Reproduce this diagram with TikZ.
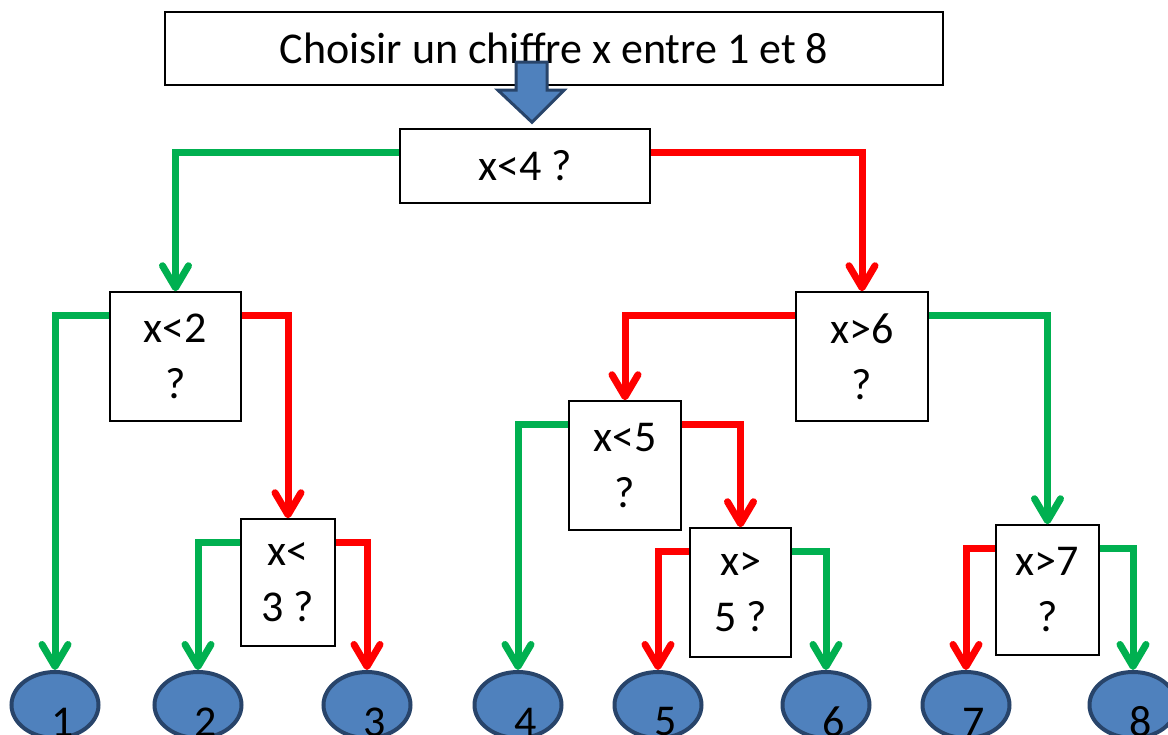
\documentclass[tikz,border=0pt]{standalone}
\usepackage{fontspec}
\setmainfont{Carlito}
\usetikzlibrary{arrows.meta,shapes.geometric}
\definecolor{oui}{RGB}{0,176,80}
\definecolor{non}{RGB}{255,0,0}
\definecolor{bleu}{RGB}{79,129,189}
\definecolor{bord}{RGB}{40,68,106}
\begin{document}
\begin{tikzpicture}[x=1pt,y=-1pt,
  every node/.style={font=\fontsize{44}{56}\selectfont},
  qbox/.style={draw, line width=1.5pt, inner sep=0pt, align=center},
  leaf/.style={ellipse, draw=bord, fill=bleu, line width=4pt, minimum width=87pt, minimum height=66pt, inner sep=0pt},
  chiffre/.style={inner sep=0pt, xshift=8pt, yshift=-17pt},
  lien/.style={line width=7pt, -{Straight Barb[length=22pt,width=26pt,round]}}]
\clip (0,0) rectangle (1168,735);
\node[qbox, minimum width=778pt, minimum height=73pt] (top) at (554,48.5){Choisir un chiffre x entre 1 et 8};
\node[qbox, minimum width=250pt, minimum height=74pt] (q0) at (525,166){x<4 ?};
\node[qbox, minimum width=131pt, minimum height=129pt] (q1) at (175.5,356.5){x<2\\?};
\node[qbox, minimum width=132pt, minimum height=129pt] (q2) at (862,356.5){x>6\\?};
\node[qbox, minimum width=94pt, minimum height=127pt] (q3) at (288,582.5){x<\\3 ?};
\node[qbox, minimum width=112pt, minimum height=129pt] (q4) at (625,465.5){x<5\\?};
\node[qbox, minimum width=101pt, minimum height=129pt] (q5) at (740.5,592.5){x>\\5 ?};
\node[qbox, minimum width=103pt, minimum height=130pt] (q6) at (1047.5,590){x>7\\?};
\node[leaf, label={[chiffre]center:1}] (l1) at (55,705){};
\node[leaf, label={[chiffre]center:2}] (l2) at (198,705){};
\node[leaf, label={[chiffre]center:3}] (l3) at (367,705){};
\node[leaf, label={[chiffre]center:4}] (l4) at (518,705){};
\node[leaf, label={[chiffre]center:5}] (l5) at (658,705){};
\node[leaf, label={[chiffre]center:6}] (l6) at (826,705){};
\node[leaf, label={[chiffre]center:7}] (l7) at (966,705){};
\node[leaf, label={[chiffre]center:8}] (l8) at (1133,705){};
\draw[bord, fill=bleu, line width=3pt] ([xshift=7pt,yshift=6pt]q0.north) -- ++(-34,-32) -- ++(18,0) -- ++(0,-28) -- ++(31,0) -- ++(0,28) -- ++(17,0) -- cycle;
\draw[lien, oui] ([yshift=-24pt]q0.north west) -| (q1.north);
\draw[lien, non] ([yshift=-24pt]q0.north east) -| (q2.north);
\draw[lien, oui] ([yshift=-24pt]q1.north west) -| (l1.north);
\draw[lien, non] ([yshift=-24pt]q1.north east) -| (q3.north);
\draw[lien, oui] ([yshift=-24pt]q3.north west) -| (l2.north);
\draw[lien, non] ([yshift=-24pt]q3.north east) -| (l3.north);
\draw[lien, non] ([yshift=-24pt]q2.north west) -| (q4.north);
\draw[lien, oui] ([yshift=-24pt]q2.north east) -| (q6.north);
\draw[lien, oui] ([yshift=-24pt]q4.north west) -| (l4.north);
\draw[lien, non] ([yshift=-24pt]q4.north east) -| (q5.north);
\draw[lien, non] ([yshift=-24pt]q5.north west) -| (l5.north);
\draw[lien, oui] ([yshift=-24pt]q5.north east) -| (l6.north);
\draw[lien, non] ([yshift=-24pt]q6.north west) -| (l7.north);
\draw[lien, oui] ([yshift=-24pt]q6.north east) -| (l8.north);
\end{tikzpicture}
\end{document}
